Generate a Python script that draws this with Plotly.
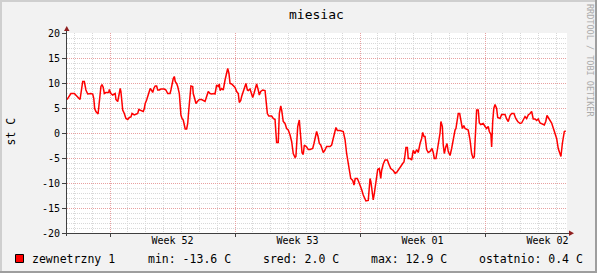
import plotly.graph_objects as go

# ---- data (days since start of the 28-day window, temperature in C) ----
days = [0, 0.17, 0.22, 0.41, 0.50, 0.66, 0.73, 0.78, 0.88, 0.97, 1.06, 1.16, 1.34, 1.44, 1.50, 1.55,
        1.62, 1.74, 1.78, 1.81, 1.90, 1.96, 2.03, 2.09, 2.18, 2.34, 2.37, 2.46, 2.56, 2.70, 2.74, 2.84,
        2.93, 2.98, 3.02, 3.08, 3.12, 3.21, 3.30, 3.40, 3.49, 3.58, 3.64, 3.77, 3.86, 3.96, 4.02, 4.09,
        4.20, 4.27, 4.33, 4.38, 4.46, 4.52, 4.61, 4.66, 4.72, 4.80, 4.86, 4.94, 5.02, 5.08, 5.17, 5.26,
        5.45, 5.54, 5.64, 5.77, 5.82, 5.88, 5.95, 6.01, 6.06, 6.14, 6.20, 6.29, 6.34, 6.38, 6.44, 6.51,
        6.57, 6.62, 6.70, 6.76, 6.82, 6.89, 6.94, 7.04, 7.07, 7.15, 7.22, 7.30, 7.41, 7.54, 7.63, 7.73,
        7.82, 7.91, 8.01, 8.10, 8.23, 8.29, 8.38, 8.47, 8.53, 8.57, 8.66, 8.75, 8.85, 8.94, 9.00, 9.07,
        9.13, 9.22, 9.31, 9.41, 9.50, 9.59, 9.65, 9.73, 9.78, 9.87, 9.97, 10.02, 10.10, 10.15, 10.25,
        10.34, 10.40, 10.47, 10.57, 10.62, 10.71, 10.77, 10.85, 10.96, 11.09, 11.14, 11.22, 11.30,
        11.46, 11.55, 11.65, 11.70, 11.74, 11.83, 11.89, 11.97, 12.02, 12.11, 12.21, 12.30, 12.39,
        12.49, 12.58, 12.67, 12.77, 12.82, 12.86, 12.92, 13.01, 13.09, 13.16, 13.23, 13.29, 13.42,
        13.51, 13.61, 13.76, 13.83, 13.90, 13.98, 14.06, 14.13, 14.21, 14.28, 14.35, 14.43, 14.54,
        14.73, 14.82, 14.91, 14.99, 15.06, 15.14, 15.29, 15.47, 15.57, 15.66, 15.75, 15.81, 15.89,
        16.00, 16.07, 16.14, 16.26, 16.34, 16.41, 16.50, 16.59, 16.65, 16.74, 16.87, 16.93, 16.97,
        17.02, 17.08, 17.15, 17.21, 17.26, 17.34, 17.40, 17.49, 17.57, 17.62, 17.71, 17.81, 17.94,
        18.02, 18.13, 18.27, 18.38, 18.46, 18.55, 18.65, 18.80, 18.87, 18.93, 18.98, 19.06, 19.11,
        19.21, 19.30, 19.39, 19.49, 19.58, 19.67, 19.77, 19.86, 19.92, 19.99, 20.05, 20.14, 20.23,
        20.33, 20.44, 20.51, 20.57, 20.66, 20.74, 20.82, 20.89, 20.94, 21.02, 21.07, 21.13, 21.21,
        21.28, 21.35, 21.45, 21.54, 21.63, 21.73, 21.78, 21.86, 21.91, 21.99, 22.06, 22.14, 22.22,
        22.29, 22.47, 22.57, 22.66, 22.75, 22.81, 22.89, 22.94, 23.03, 23.09, 23.17, 23.31, 23.41,
        23.50, 23.59, 23.65, 23.74, 23.78, 23.84, 23.90, 23.97, 24.06, 24.12, 24.25, 24.34, 24.53,
        24.62, 24.71, 24.81, 24.90, 25.03, 25.13, 25.24, 25.37, 25.46, 25.55, 25.65, 25.74, 25.83,
        25.93, 26.02, 26.11, 26.21, 26.30, 26.39, 26.49, 26.58, 26.73, 26.81, 26.88, 26.95, 27.05,
        27.14, 27.23, 27.33, 27.42, 27.51, 27.61, 27.66, 27.74, 27.79, 27.85, 27.93]

temps = [6.7, 7.7, 7.9, 7.9, 7.6, 7.1, 6.7, 7.9, 10.3, 10.3, 8.6, 7.8, 7.9, 7.8, 6.9, 4.9,
         4.3, 3.8, 4.9, 6.3, 9.3, 9.7, 9.1, 7.9, 8.1, 8.1, 8.7, 7.9, 7.6, 7.9, 6.7, 6.3,
         7.6, 8.9, 8.3, 6.3, 4.6, 3.9, 2.9, 2.7, 3.1, 3.2, 3.9, 3.6, 3.8, 3.9, 4.7, 4.6,
         4.3, 4.3, 4.9, 5.9, 6.6, 7.3, 7.9, 8.9, 8.6, 8.1, 8.9, 9.4, 9.4, 8.6, 8.6, 8.8,
         8.8, 8.6, 7.9, 7.9, 8.6, 9.9, 10.9, 11.3, 10.3, 9.9, 9.3, 7.9, 5.9, 3.6, 2.9, 2.6,
         1.6, 0.8, 0.8, 1.9, 4.6, 8.3, 9.4, 9.3, 7.9, 6.9, 5.9, 6.3, 6.7, 6.7, 6.5, 6.3,
         7.3, 8.3, 7.9, 7.8, 7.9, 7.8, 9.6, 9.3, 9.8, 8.5, 8.9, 8.6, 10.6, 11.9, 12.9, 11.9,
         9.9, 9.8, 9.4, 9.1, 8.3, 7.9, 6.1, 6.5, 7.3, 8.3, 9.6, 9.9, 8.6, 8.5, 8.8,
         7.9, 7.1, 7.9, 9.3, 9.8, 8.6, 7.6, 8.3, 8.6, 8.5, 6.6, 3.9, 3.4,
         3.4, 2.9, 2.7, 0.0, -1.9, -1.9, 3.9, 5.4, 4.6, 2.3, 1.9, 0.9, 0.6,
         -0.4, -1.7, -4.1, -4.9, -4.7, -1.5, 1.3, 2.6, -0.7, -3.9, -4.3, -2.4, -2.8,
         -3.3, -3.3, -3.1, -2.1, -0.7, 0.3, -0.7, -2.1, -2.4, -3.3, -3.9, -3.5, -2.7,
         -2.7, -2.4, -1.1, 0.1, 1.1, 0.5, 0.5, 0.3, -1.3, -4.1, -6.1, -7.7, -9.1,
         -9.5, -10.4, -9.1, -9.1, -9.8, -10.4, -11.3, -12.4, -12.8, -13.6, -13.5, -11.4, -9.1,
         -9.8, -11.3, -13.4, -12.1, -10.7, -9.4, -7.3, -7.1, -9.1, -7.5, -6.2, -5.4, -5.4,
         -6.2, -7.1, -7.5, -8.1, -7.9, -7.3, -6.9, -6.1, -5.8, -4.4, -2.9, -2.9, -5.1,
         -5.1, -5.4, -3.5, -4.1, -3.3, -3.9, -2.1, -1.1, 0.1, -0.7, -0.7, -3.3, -3.9,
         -3.7, -3.1, -3.9, -5.1, -5.1, -3.4, -1.8, 0.0, 2.3, 1.3, -2.4, -4.1, -2.8,
         -2.1, -3.7, -4.5, -3.1, -1.1, 0.6, 0.9, 2.6, 3.9, 3.9, 2.3, 0.9, 1.5,
         0.9, 0.6, -1.4, -4.1, -5.1, -4.7, 1.3, 4.6, 4.6, 2.0, 1.7, 1.9, 1.3,
         0.9, 1.3, 0.3, -0.3, -2.8, 2.3, 4.9, 5.7, 4.9, 3.1, 2.9, 3.7, 3.7,
         2.8, 2.3, 3.5, 3.9, 3.9, 2.9, 2.3, 1.9, 2.0, 2.5, 3.3, 2.9, 3.6,
         3.9, 4.3, 2.8, 2.8, 2.5, 2.8, 2.0, 1.9, 1.6, 2.3, 3.5, 3.1, 2.5,
         2.0, 1.0, -0.4, -1.1, -3.1, -4.3, -4.7, -2.1, -0.7, 0.3, 0.4]

week_starts = [2.41, 9.41, 16.41, 23.41]
week_mid = [5.91, 12.91, 19.91, 26.91]
week_labels = ["Week 52", "Week 53", "Week 01", "Week 02"]
y_ticks = [-20, -15, -10, -5, 0, 5, 10, 15, 20]

series_name = "zewnetrzny 1"
stat_labels = ["min:", "sred:", "max:", "ostatnio:"]
stat_values = [-13.6, 2.0, 12.9, 0.4]
unit = "C"

# ---- geometry helpers (canvas pixels -> paper coords) ----
W, H = 597, 273
L, R, T, B = 67, 567, 33, 233


def px(x):
    return (x - L) / (R - L)


def py(y):
    return (B - y) / (B - T)


MONO = "DejaVu Sans Mono"
GRID_MINOR = "#d8d8d8"
GRID_MAJOR = "#e8a0a0"
AXIS = "#404040"
ARROW = "#902020"

fig = go.Figure()
fig.add_trace(go.Scatter(x=days, y=temps, mode="lines",
                         line=dict(color="#ff0000", width=1.5),
                         showlegend=False, hoverinfo="skip"))
fig.add_trace(go.Scatter(x=week_mid, y=[0] * len(week_mid), xaxis="x2", mode="markers",
                         marker=dict(opacity=0), showlegend=False, hoverinfo="skip"))

fig.update_layout(
    width=W, height=H, autosize=False,
    margin=dict(l=L, r=W - R, t=T, b=H - B, pad=0),
    paper_bgcolor="#f2f2f2", plot_bgcolor="#ffffff",
    font=dict(family=MONO, size=10, color="#000000"),
    xaxis=dict(range=[0, 28], tickmode="array", tickvals=week_starts,
               ticktext=[""] * len(week_starts), showgrid=True, gridcolor=GRID_MAJOR,
               griddash="1px,1px", gridwidth=1, zeroline=False, showline=False,
               ticks="outside", ticklen=3, tickcolor=AXIS, fixedrange=True,
               minor=dict(tickmode="linear", tick0=0.41, dtick=1, showgrid=True,
                          gridcolor=GRID_MINOR, griddash="1px,1px", ticks="")),
    xaxis2=dict(range=[0, 28], overlaying="x", side="bottom", anchor="y",
                tickmode="array", tickvals=week_mid, ticktext=week_labels,
                showgrid=False, zeroline=False, showline=False, ticks="",
                tickfont=dict(family=MONO, size=10, color="#000000"), fixedrange=True),
    yaxis=dict(range=[-20, 20], tickmode="array", tickvals=y_ticks,
               ticktext=[str(v) for v in y_ticks], showgrid=True, gridcolor=GRID_MAJOR,
               griddash="1px,1px", zeroline=False, showline=False,
               ticks="outside", ticklen=4, tickcolor=AXIS,
               tickfont=dict(family=MONO, size=10, color="#000000"), fixedrange=True,
               minor=dict(tickmode="linear", tick0=0, dtick=1, showgrid=True,
                          gridcolor=GRID_MINOR, griddash="1px,1px", ticks="")),
)

shapes = []
# 3D frame
shapes.append(dict(type="rect", xref="paper", yref="paper", x0=px(0), x1=px(W), y0=py(0), y1=py(2),
                   fillcolor="#cfcfcf", line=dict(width=0), layer="above"))
shapes.append(dict(type="rect", xref="paper", yref="paper", x0=px(0), x1=px(2), y0=py(0), y1=py(H),
                   fillcolor="#cfcfcf", line=dict(width=0), layer="above"))
shapes.append(dict(type="rect", xref="paper", yref="paper", x0=px(0), x1=px(W), y0=py(H - 2), y1=py(H),
                   fillcolor="#9e9e9e", line=dict(width=0), layer="above"))
shapes.append(dict(type="rect", xref="paper", yref="paper", x0=px(W - 2), x1=px(W), y0=py(0), y1=py(H),
                   fillcolor="#9e9e9e", line=dict(width=0), layer="above"))
# axes
shapes.append(dict(type="line", xref="paper", yref="paper", x0=px(63), x1=px(570), y0=py(233.5), y1=py(233.5),
                   line=dict(color=AXIS, width=1), layer="above"))
shapes.append(dict(type="line", xref="paper", yref="paper", x0=px(66.5), x1=px(66.5), y0=py(236), y1=py(29),
                   line=dict(color=AXIS, width=1), layer="above"))
# arrows
shapes.append(dict(type="path", xref="paper", yref="paper",
                   path=f"M {px(64)} {py(31)} L {px(69.5)} {py(31)} L {px(66.75)} {py(26)} Z",
                   fillcolor=ARROW, line=dict(width=0), layer="above"))
shapes.append(dict(type="path", xref="paper", yref="paper",
                   path=f"M {px(569)} {py(230.5)} L {px(569)} {py(236)} L {px(574)} {py(233.25)} Z",
                   fillcolor=ARROW, line=dict(width=0), layer="above"))
# legend swatch
shapes.append(dict(type="rect", xref="paper", yref="paper", x0=px(15.5), x1=px(23.5), y0=py(254.5), y1=py(262.5),
                   fillcolor="#ff0000", line=dict(color="#000000", width=1), layer="above"))
fig.update_layout(shapes=shapes)

ann = []
ann.append(dict(text="miesiac", xref="paper", yref="paper", x=px(316.5), y=py(14),
                xanchor="center", yanchor="middle", showarrow=False,
                font=dict(family=MONO, size=13, color="#000000")))
ann.append(dict(text="st C", xref="paper", yref="paper", x=px(10), y=py(131.5), textangle=-90,
                xanchor="center", yanchor="middle", showarrow=False,
                font=dict(family=MONO, size=11.5, color="#000000")))
ann.append(dict(text="RRDTOOL / TOBI OETIKER", xref="paper", yref="paper", x=px(590), y=py(60),
                textangle=90, xanchor="center", yanchor="middle", showarrow=False,
                font=dict(family=MONO, size=8.5, color="#aaaaaa")))
legend_x = [30, 145.5, 260.5, 368.5, 476.5]
legend_texts = [series_name] + [f"{lab} {val:.1f} {unit}" for lab, val in zip(stat_labels, stat_values)]
for lx, t in zip(legend_x, legend_texts):
    ann.append(dict(text=t, xref="paper", yref="paper", x=px(lx), y=py(259), xanchor="left",
                    yanchor="middle", showarrow=False,
                    font=dict(family=MONO, size=11.5, color="#000000")))
fig.update_layout(annotations=ann)

fig.write_html("out.html")
